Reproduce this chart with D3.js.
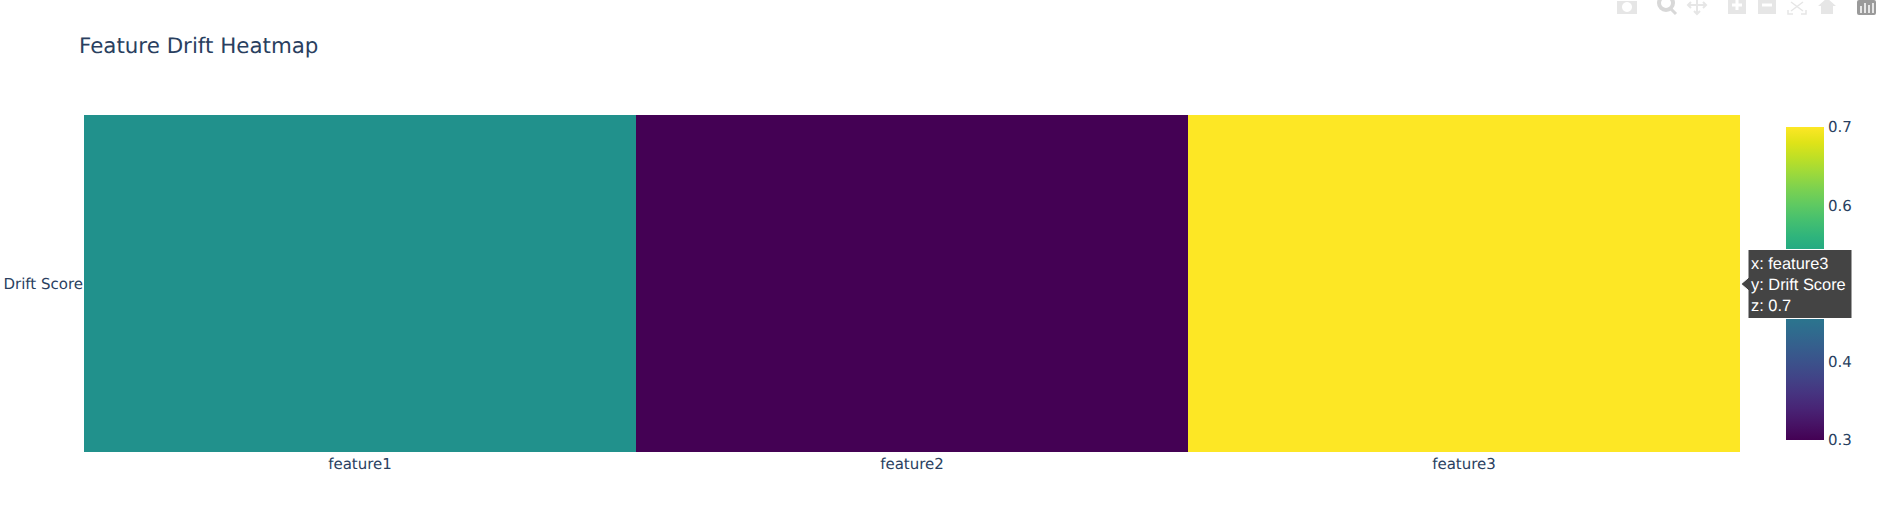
<!DOCTYPE html>
<html>
<head>
<meta charset="utf-8">
<script src="https://cdn.jsdelivr.net/npm/d3@7"></script>
<style>
html,body{margin:0;padding:0;background:#fff;overflow:hidden}
svg{display:block}
text{font-family:"DejaVu Sans",Verdana,sans-serif;text-rendering:geometricPrecision}
</style>
</head>
<body>
<svg id="chart" width="1882" height="522"></svg>
<script>
const categories = ["feature1","feature2","feature3"];
const rowLabels = ["Drift Score"];
const zValues = [0.5,0.3,0.7];
const colorTicks = [0.3,0.4,0.5,0.6,0.7];
const titleText = "Feature Drift Heatmap";
const hoverLines = ["x: feature3","y: Drift Score","z: 0.7"];

const ink = "#2a3f5f";
const plot = {l:84,r:1740,t:115,b:452};
const bar = {l:1786,r:1824,t:127,b:440};
const svg = d3.select("#chart");

const x = d3.scaleBand().domain(categories).range([plot.l,plot.r]);
const y = d3.scaleBand().domain(rowLabels).range([plot.t,plot.b]);
const c = d3.scaleSequential(d3.interpolateViridis).domain([0.3,0.7]);
const cy = d3.scaleLinear().domain([0.3,0.7]).range([bar.b,bar.t]);

svg.append("text").attr("x",79).attr("y",52.5).attr("fill",ink)
  .style("font-size","21.4px").text(titleText);

svg.append("g").selectAll("rect").data(categories).join("rect")
  .attr("x",d=>x(d)).attr("y",y(rowLabels[0]))
  .attr("width",x.bandwidth()).attr("height",y.bandwidth())
  .attr("fill",(d,i)=>c(zValues[i]));

const xAxis = svg.append("g").attr("transform",`translate(0,${plot.b})`)
  .call(d3.axisBottom(x).tickSize(0).tickPadding(6));
const yAxis = svg.append("g").attr("transform",`translate(${plot.l},0)`)
  .call(d3.axisLeft(y).tickSize(0).tickPadding(1));
[xAxis,yAxis].forEach(a=>{
  a.select(".domain").remove();
  a.selectAll("text").attr("fill",ink).style("font-family",'"DejaVu Sans"').style("font-size","15px");
});
yAxis.selectAll("text").attr("dy","0.38em");

// colour bar
const grad = svg.append("defs").append("linearGradient").attr("id","cb")
  .attr("x1",0).attr("y1",1).attr("x2",0).attr("y2",0);
d3.range(0,1.0001,0.05).forEach(t=>grad.append("stop")
  .attr("offset",t).attr("stop-color",d3.interpolateViridis(t)));
svg.append("rect").attr("x",bar.l).attr("y",bar.t)
  .attr("width",bar.r-bar.l).attr("height",bar.b-bar.t).attr("fill","url(#cb)");
const cAxis = svg.append("g").attr("transform",`translate(${bar.r},0)`)
  .call(d3.axisRight(cy).tickValues(colorTicks).tickFormat(d3.format(".1f")).tickSize(0).tickPadding(4));
cAxis.select(".domain").remove();
cAxis.selectAll("text").attr("fill",ink).style("font-family",'"DejaVu Sans"').style("font-size","15px");

// hover label
const hov = svg.append("g").attr("transform","translate(1741,284)");
hov.append("path").attr("d","M0,0 L7,-6 L7,-34.5 L111,-34.5 L111,34.5 L7,34.5 L7,6 Z")
  .attr("fill","#444").attr("stroke","#fff").attr("stroke-width",1);
hov.selectAll("text").data(hoverLines).join("text")
  .attr("x",10).attr("y",(d,i)=>-15.5+i*21.3)
  .attr("fill","#fff").style("font-family",'"Liberation Sans",Arial,sans-serif')
  .style("font-size","16.4px").text(d=>d);

// modebar (clipped at top of the page as in the reference)
const mb = svg.append("g").attr("fill","#e6e6e6");
mb.append("path").attr("fill-rule","evenodd")
  .attr("d","M1617,1H1637V14H1617Z M1627,2a5,5 0 1,0 0.01,0Z");
mb.append("circle").attr("cx",1666).attr("cy",3).attr("r",7).attr("fill","none")
  .attr("stroke","#d8d8d8").attr("stroke-width",4);
mb.append("path").attr("d","M1670,8L1676,14").attr("stroke","#d8d8d8").attr("stroke-width",3);
mb.append("path").attr("fill","none").attr("stroke","#e6e6e6").attr("stroke-width",2)
  .attr("d","M1697,0V14M1688,5H1706M1691,2L1688,5L1691,8M1703,2L1706,5L1703,8M1694,11L1697,14L1700,11");
mb.append("rect").attr("x",1728).attr("y",0).attr("width",18).attr("height",14);
mb.append("path").attr("stroke","#fff").attr("stroke-width",3).attr("d","M1732,5H1742M1737,0V10");
mb.append("rect").attr("x",1758).attr("y",0).attr("width",18).attr("height",14);
mb.append("path").attr("stroke","#fff").attr("stroke-width",3).attr("d","M1762,5H1772");
mb.append("path").attr("fill","none").attr("stroke","#e6e6e6").attr("stroke-width",1.5)
  .attr("d","M1791,2L1803,11M1803,2L1791,11M1788,10V14H1793M1806,10V14H1801");
mb.append("path").attr("fill","#e6e6e6").attr("d","M1818,6L1827,-2L1836,6H1833V14H1821V6Z");
mb.append("rect").attr("x",1857).attr("y",0).attr("width",19).attr("height",15).attr("rx",2).attr("fill","#9a9a9a");
mb.append("path").attr("stroke","#fff").attr("stroke-width",1.5)
  .attr("d","M1861,6V13M1865,3V13M1869,5V13M1873,3V13");
</script>
</body>
</html>
